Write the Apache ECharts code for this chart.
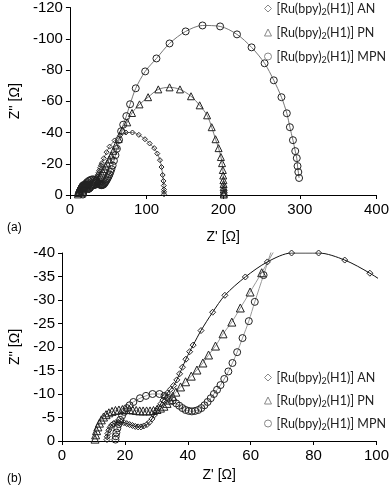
<!DOCTYPE html>
<html>
<head>
<meta charset="utf-8">
<script src="https://cdn.jsdelivr.net/npm/echarts@6/dist/echarts.min.js"></script>
<style>
html, body { margin: 0; padding: 0; background: #fff; }
#main { width: 392px; height: 485px; }
</style>
</head>
<body>
<div id="main"></div>
<script>
// [Z', Z''] pairs, ohm
var anData = [
  [14.3,-0.3],[14.4,-0.9],[14.6,-1.6],[14.9,-2.3],[15.3,-2.9],[15.8,-3.4],[16.4,-3.7],[17.1,-3.9],
  [17.9,-4.0],[18.8,-4.0],[19.7,-3.9],[20.6,-3.7],[21.5,-3.5],[22.4,-3.3],[23.3,-3.1],[24.2,-3.0],
  [25.1,-3.0],[26.0,-3.2],[27.0,-3.5],[27.8,-4.0],[28.6,-4.7],[29.3,-5.5],[30.0,-6.3],[30.7,-7.1],
  [31.4,-7.9],[32.1,-8.7],[32.8,-9.5],[33.5,-10.2],[34.5,-11.0],[35.5,-11.8],[36.5,-13.0],[37.4,-14.3],
  [38.3,-15.7],[39.4,-17.4],[40.6,-19.0],[41.7,-20.4],[44.2,-23.5],[47.9,-27.4],[51.8,-31.0],[58.3,-34.9],
  [65.3,-38.1],[73.0,-40.0],[81.6,-40.0],[89.9,-38.5],[97.9,-35.7],[104.0,-33.0],[110.0,-30.0],[114.0,-26.5],
  [117.5,-22.3],[119.5,-17.9],[121.0,-12.8],[122.0,-9.0],[122.5,-6.0],[122.7,-3.5],[122.8,-2.0],[122.8,-0.5]
];
var pnData = [
  [10.5,-0.4],[10.7,-1.3],[11.0,-2.2],[11.4,-3.0],[11.9,-3.8],[12.5,-4.5],[13.2,-5.1],[14.0,-5.6],
  [14.9,-6.0],[15.9,-6.3],[17.0,-6.5],[18.1,-6.6],[19.2,-6.7],[20.3,-6.7],[21.4,-6.7],[22.5,-6.6],
  [23.6,-6.5],[24.7,-6.4],[25.8,-6.4],[26.9,-6.4],[28.0,-6.4],[29.1,-6.5],[30.2,-6.7],[31.3,-7.0],
  [32.4,-7.4],[33.4,-8.0],[34.3,-8.7],[35.2,-9.5],[36.2,-10.4],[37.7,-11.5],[39.3,-12.6],[41.1,-13.8],
  [42.9,-15.1],[44.8,-16.6],[46.6,-18.3],[48.8,-20.2],[51.2,-22.8],[54.0,-25.3],[56.7,-28.3],[59.8,-31.7],
  [63.5,-35.8],[68.5,-41.5],[74.8,-46.5],[81.0,-52.5],[90.8,-58.0],[102.0,-62.6],[115.3,-67.6],[130.0,-68.9],
  [143.6,-67.6],[158.0,-63.2],[169.3,-57.4],[179.0,-51.0],[185.0,-43.4],[190.0,-35.7],[194.0,-30.0],[197.0,-24.3],
  [198.5,-20.4],[199.5,-16.0],[200.0,-12.5],[200.3,-9.5],[200.5,-7.0],[200.6,-5.0],[200.7,-3.5],[200.8,-2.0],
  [200.8,-1.0],[200.8,-0.3]
];
var mpnData = [
  [17.0,-0.3],[17.1,-1.0],[17.3,-1.8],[17.6,-2.7],[18.0,-3.6],[18.5,-4.5],[19.1,-5.4],[19.8,-6.2],
  [20.6,-7.0],[21.5,-7.6],[22.7,-8.3],[24.8,-9.1],[26.7,-9.6],[28.8,-10.0],[31.0,-10.0],[32.6,-9.6],
  [34.0,-9.1],[35.2,-8.6],[36.3,-8.0],[37.3,-7.5],[38.3,-7.0],[39.3,-6.6],[40.3,-6.4],[41.3,-6.3],
  [42.3,-6.4],[43.3,-6.6],[44.3,-7.0],[45.3,-7.6],[46.3,-8.3],[47.3,-9.1],[48.3,-10.0],[49.3,-10.9],
  [50.4,-11.9],[51.6,-13.2],[52.9,-14.8],[54.2,-16.6],[55.7,-18.9],[57.4,-21.9],[59.4,-25.5],[61.3,-29.6],
  [64.1,-35.3],[66.8,-40.8],[69.5,-45.0],[73.6,-50.5],[78.5,-58.1],[85.9,-68.3],[98.2,-79.1],[112.9,-87.4],
  [130.0,-97.0],[151.0,-104.7],[173.0,-108.5],[196.0,-107.9],[218.0,-102.8],[237.0,-94.5],[254.0,-84.3],[266.0,-73.4],
  [276.0,-62.6],[283.0,-52.3],[287.0,-43.4],[291.0,-35.1],[294.0,-28.1],[296.0,-23.6],[297.0,-18.5],[298.0,-14.7],
  [299.0,-10.9]
];
var names = ['AN', 'PN', 'MPN'];
var symbols = ['diamond', 'triangle', 'circle'];

var chart = echarts.init(document.getElementById('main'));
var tickFont = { fontFamily: 'Liberation Sans', fontSize: 15, color: '#000' };

function axisBase(gridIndex) {
  return {
    gridIndex: gridIndex,
    type: 'value',
    splitLine: { show: false },
    axisLine: { show: true, lineStyle: { color: '#000', width: 1 } },
    axisTick: { show: true, length: 4, lineStyle: { color: '#000' } },
    axisLabel: Object.assign({ margin: 7 }, tickFont),
    nameLocation: 'middle',
    nameTextStyle: { fontFamily: 'Liberation Sans', fontSize: 14, color: '#000' }
  };
}

function mk(i, data, grid, sizes, lineColors) {
  return {
    name: names[i],
    type: 'line',
    xAxisIndex: grid,
    yAxisIndex: grid,
    data: data,
    smooth: 0.3,
    symbol: symbols[i],
    symbolSize: sizes[i],
    showAllSymbol: true,
    clip: true,
    lineStyle: { color: lineColors[i], width: 1 },
    itemStyle: { color: 'rgba(255,255,255,0)', borderColor: '#222', borderWidth: 1 },
    z: 3 - i
  };
}

function legendFor(top, gap) {
  return {
    orient: 'vertical',
    left: 259,
    top: top,
    itemWidth: 7,
    itemHeight: 7,
    itemGap: gap,
    selectedMode: false,
    data: names.map(function (n, i) {
      return { name: n, icon: symbols[i], itemStyle: { color: '#fff', borderColor: '#888', borderWidth: 1 } };
    }),
    formatter: function (n) { return '[Ru(bpy){s|2}(H1)] ' + n; },
    textStyle: {
      fontFamily: 'Lato', fontSize: 12.5, color: '#222',
      rich: { s: { fontFamily: 'Lato', fontSize: 9, color: '#222', padding: [7, 0, 0, 0] } }
    }
  };
}

var xTop = axisBase(0);
Object.assign(xTop, { min: 0, max: 400, interval: 100, name: "Z' [Ω]", nameGap: 35 });
var yTop = axisBase(0);
Object.assign(yTop, { min: -120, max: 0, interval: 20, inverse: true, name: "Z'' [Ω]", nameGap: 40 });
var xBot = axisBase(1);
Object.assign(xBot, { min: 0, max: 100, interval: 20, name: "Z' [Ω]", nameGap: 27 });
var yBot = axisBase(1);
Object.assign(yBot, { min: -40, max: 0, interval: 5, inverse: true, name: "Z'' [Ω]", nameGap: 40 });

chart.setOption({
  backgroundColor: '#fff',
  animation: false,
  title: [
    { text: '(a)', left: 2, top: 217, textStyle: { fontFamily: 'Liberation Sans', fontSize: 12, fontWeight: 'normal', color: '#000' } },
    { text: '(b)', left: 2, top: 468, textStyle: { fontFamily: 'Liberation Sans', fontSize: 12, fontWeight: 'normal', color: '#000' } }
  ],
  grid: [
    { left: 51, top: 7, width: 326, height: 188 },
    { left: 51, top: 253, width: 326, height: 188 }
  ],
  legend: [legendFor(-3, 9.5), legendFor(366, 8.5)],
  xAxis: [xTop, xBot],
  yAxis: [yTop, yBot],
  series: [
    mk(0, anData, 0, [5, 7, 7], ['#777', '#777', '#777']),
    mk(1, pnData, 0, [5, 7, 7], ['#777', '#777', '#777']),
    mk(2, mpnData, 0, [5, 7, 7], ['#777', '#777', '#777']),
    mk(0, anData, 1, [6, 8, 7], ['#111', '#999', '#999']),
    mk(1, pnData, 1, [6, 8, 7], ['#111', '#999', '#999']),
    mk(2, mpnData, 1, [6, 8, 7], ['#111', '#999', '#999'])
  ]
});
</script>
</body>
</html>
